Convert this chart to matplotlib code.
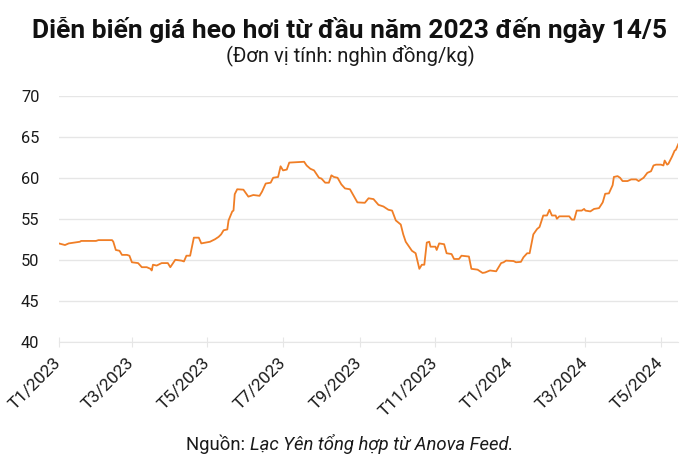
import matplotlib
matplotlib.use("Agg")
import matplotlib.pyplot as plt
import pandas as pd

plt.rcParams["font.family"] = ["Roboto", "DejaVu Sans"]

START = "2023-01-01"
# days since 1/1/2023
day_offsets = [
    0, 5, 8, 17, 18, 30, 32, 43, 44, 46, 49, 51, 55, 57, 59, 64, 67, 71, 74, 75,
    76, 79, 83, 88, 90, 94, 99, 101, 103, 106, 109, 113, 115, 122, 126, 129, 131,
    133, 136, 137, 140, 141, 142, 144, 149, 153, 157, 162, 164, 167, 171, 173, 177,
    179, 181, 184, 186, 198, 200, 203, 206, 210, 212, 215, 218, 220, 222, 225, 228,
    231, 235, 238, 241, 247, 250, 254, 258, 262, 266, 269, 272, 276, 278, 280, 285,
    288, 291, 293, 295, 297, 299, 300, 304, 305, 307, 311, 313, 317, 319, 323, 325,
    331, 333, 338, 342, 344, 348, 353, 357, 359, 361, 367, 369, 373, 375, 378, 380,
    382, 383, 386, 388, 391, 394, 396, 398, 401, 402, 404, 412, 414, 416, 418, 422,
    424, 425, 429, 432, 436, 439, 441, 444, 447, 448, 451, 453, 455, 459, 462, 466,
    468, 472, 475, 478, 480, 482, 486, 488, 489, 491, 492, 495, 497, 498, 500,
]
price = [
    52.0, 51.8, 52.0, 52.2, 52.3, 52.3, 52.4, 52.4, 52.2, 51.2, 51.1, 50.6, 50.6,
    50.5, 49.7, 49.6, 49.1, 49.1, 48.9, 48.7, 49.4, 49.3, 49.6, 49.6, 49.1, 50.0,
    49.9, 49.8, 50.5, 50.5, 52.7, 52.7, 52.0, 52.2, 52.5, 52.8, 53.1, 53.6, 53.7,
    54.8, 55.9, 56.0, 58.0, 58.6, 58.55, 57.7, 57.9, 57.8, 58.3, 59.3, 59.4, 60.0,
    60.1, 61.4, 60.9, 61.0, 61.85, 61.95, 61.5, 61.1, 60.9, 60.0, 59.9, 59.4, 59.4,
    60.3, 60.1, 60.0, 59.2, 58.7, 58.6, 57.8, 57.0, 56.95, 57.5, 57.4, 56.7, 56.5,
    56.1, 56.0, 54.8, 54.3, 53.1, 52.2, 51.1, 50.8, 48.9, 49.4, 49.4, 52.1, 52.2,
    51.6, 51.6, 51.2, 52.0, 51.9, 50.8, 50.7, 50.1, 50.1, 50.5, 50.4, 48.9, 48.8,
    48.4, 48.45, 48.7, 48.6, 49.6, 49.7, 49.9, 49.85, 49.7, 49.75, 50.3, 50.8, 50.8,
    52.3, 53.1, 53.75, 54.0, 55.4, 55.4, 56.1, 55.4, 55.4, 55.0, 55.3, 55.3, 54.9,
    54.9, 56.0, 56.0, 56.2, 56.0, 55.9, 56.2, 56.3, 57.0, 58.05, 58.1, 59.1, 60.1,
    60.2, 60.0, 59.6, 59.6, 59.8, 59.8, 59.6, 60.0, 60.6, 60.8, 61.5, 61.6, 61.6,
    61.5, 62.1, 61.6, 61.7, 62.6, 63.3, 63.4, 64.1,
]
tick_dates = ["2023-01-01", "2023-03-01", "2023-05-01", "2023-07-01", "2023-09-01",
              "2023-11-01", "2024-01-01", "2024-03-01", "2024-05-01"]
tick_labels = ["T1/2023", "T3/2023", "T5/2023", "T7/2023", "T9/2023",
               "T11/2023", "T1/2024", "T3/2024", "T5/2024"]
y_ticks = [40, 45, 50, 55, 60, 65, 70]

title = "Diễn biến giá heo hơi từ đầu năm 2023 đến ngày 14/5"
subtitle = "(Đơn vị tính: nghìn đồng/kg)"
source_plain = "Nguồn: "
source_italic = "Lạc Yên tổng hợp từ Anova Feed."


def main() -> None:
    start = pd.Timestamp(START)
    dates = start + pd.to_timedelta(day_offsets, unit="D")
    ticks = pd.to_datetime(tick_dates)

    fig = plt.figure(figsize=(7, 4.67), dpi=100)
    ax = fig.add_axes([0.084, 0.268, 0.885, 0.527])

    ax.plot(dates, price, color="#f07e26", lw=1.3, zorder=3)

    ax.set_ylim(40, 70)
    ax.set_yticks(y_ticks)
    ax.set_xlim(start, start + pd.Timedelta(days=500))
    ax.set_xticks(ticks)
    ax.set_xticklabels(tick_labels, rotation=45, ha="right", va="center",
                       rotation_mode="anchor")

    ax.grid(axis="y", color="#e6e6e6", lw=1.0)
    ax.set_axisbelow(True)
    for side in ("top", "right", "left"):
        ax.spines[side].set_visible(False)
    ax.spines["bottom"].set_color("#e6e6e6")
    ax.tick_params(axis="y", length=0, pad=14, labelsize=11.8, labelcolor="#1a1a1a")
    ax.tick_params(axis="x", direction="inout", length=7, color="#e6e6e6",
                   pad=10, labelsize=12.5, labelcolor="#1a1a1a")

    fig.text(0.5, 0.919, title, ha="center", va="baseline", fontsize=19,
             fontweight="bold", color="#111111")
    fig.text(0.5, 0.868, subtitle, ha="center", va="baseline", fontsize=14.5,
             color="#1a1a1a")

    # source line: plain + italic, centered together
    renderer = fig.canvas.get_renderer()
    t1 = fig.text(0, 0.036, source_plain, ha="left", va="baseline", fontsize=13.3,
                  color="#1a1a1a")
    t2 = fig.text(0, 0.036, source_italic, ha="left", va="baseline", fontsize=13.3,
                  style="italic", color="#1a1a1a")
    w1 = t1.get_window_extent(renderer).width / fig.bbox.width
    w2 = t2.get_window_extent(renderer).width / fig.bbox.width
    x0 = 0.5 - (w1 + w2) / 2
    t1.set_x(x0)
    t2.set_x(x0 + w1)

    fig.savefig("out.png", dpi=100)
    plt.close(fig)


if __name__ == "__main__":
    main()
